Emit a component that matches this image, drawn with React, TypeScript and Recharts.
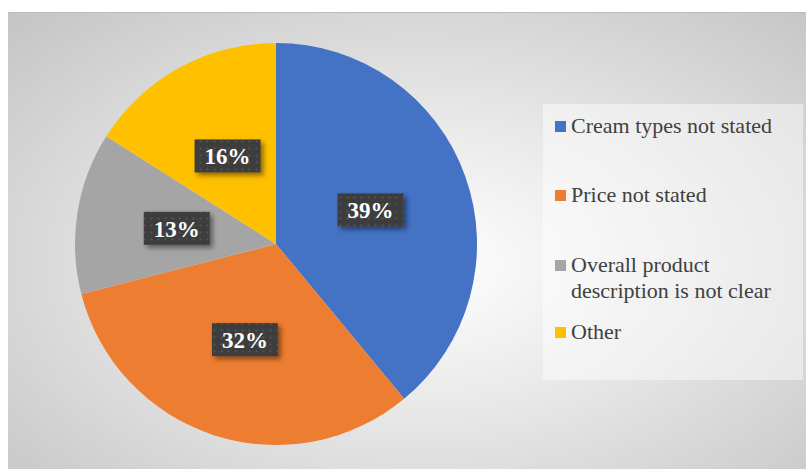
import React from "react";
import { PieChart, Pie, Cell, Legend } from "recharts";

const categories = [
  "Cream types not stated",
  "Price not stated",
  "Overall product description is not clear",
  "Other",
];
const shares = [39, 32, 13, 16];
const colors = ["#4472C4", "#ED7D31", "#A5A5A5", "#FFC000"];

const data = categories.map((name, i) => ({ name, value: shares[i] }));

const RAD = Math.PI / 180;
const SERIF = "'Liberation Serif', Tinos, 'Times New Roman', Times, 'DejaVu Serif', serif";

const renderLabel = (props: any) => {
  const { cx, cy, midAngle, outerRadius, value } = props;
  const r = outerRadius * 0.5;
  const x = cx + r * Math.cos(-midAngle * RAD);
  const y = cy + r * Math.sin(-midAngle * RAD);
  const w = 66;
  const h = 33;
  return (
    <g>
      <rect
        x={x - w / 2}
        y={y - h / 2}
        width={w}
        height={h}
        fill="url(#dotPattern)"
        filter="url(#boxShadow)"
      />
      <text
        x={x}
        y={y + 1}
        textAnchor="middle"
        dominantBaseline="central"
        fill="#ffffff"
        fontFamily={SERIF}
        fontWeight="bold"
        fontSize={23}
      >
        {value}%
      </text>
    </g>
  );
};

// legend rows: top offset of the text block inside the legend box
const legendTops = [9, 78, 148, 215];
const legendLines = [
  ["Cream types not stated"],
  ["Price not stated"],
  ["Overall product", "description is not clear"],
  ["Other"],
];

const LegendBox = () => (
  <div
    style={{
      position: "relative",
      width: 260,
      height: 276,
      background: "rgba(255,255,255,0.45)",
      fontFamily: SERIF,
      fontSize: 22,
      color: "#404040",
    }}
  >
    {categories.map((c, i) => (
      <div key={c} style={{ position: "absolute", left: 0, top: legendTops[i], width: 260 }}>
        <div
          style={{
            position: "absolute",
            left: 12,
            top: 8,
            width: 11,
            height: 11,
            background: colors[i],
          }}
        />
        <div style={{ marginLeft: 28, lineHeight: "26px", whiteSpace: "nowrap" }}>
          {legendLines[i].map((l) => (
            <div key={l}>{l}</div>
          ))}
        </div>
      </div>
    ))}
  </div>
);

export default function App() {
  return (
    <div
      style={{
        position: "absolute",
        left: 8,
        top: 12,
        width: 798,
        height: 457,
        background: "radial-gradient(ellipse at 52% 55%, #ffffff 0%, #e9e9e9 40%, #c4c4c4 100%)",
        borderTop: "1px solid #bdbdbd",
        boxSizing: "border-box",
      }}
    >
      <svg width={0} height={0} style={{ position: "absolute" }}>
        <defs>
          <pattern id="dotPattern" width={7} height={7} patternUnits="userSpaceOnUse">
            <rect width={7} height={7} fill="#3d3d3d" />
            <circle cx={3.5} cy={3.5} r={1} fill="#575757" />
          </pattern>
          <filter id="boxShadow" x="-20%" y="-20%" width="150%" height="160%">
            <feDropShadow dx={3} dy={3} stdDeviation={2.5} floodColor="#000" floodOpacity={0.45} />
          </filter>
        </defs>
      </svg>
      <PieChart
        width={798}
        height={456}
        margin={{ top: 0, right: 0, bottom: 0, left: 0 }}
        style={{ position: "absolute", left: 0, top: -1 }}
      >
        <Pie
          data={data}
          dataKey="value"
          nameKey="name"
          cx={268}
          cy={232}
          outerRadius={201}
          startAngle={90}
          endAngle={-270}
          stroke="none"
          label={renderLabel}
          labelLine={false}
          isAnimationActive={false}
        >
          {data.map((d, i) => (
            <Cell key={d.name} fill={colors[i]} />
          ))}
        </Pie>
        <Legend
          content={() => <LegendBox />}
          wrapperStyle={{ position: "absolute", left: 535, top: 92, width: 260, height: 276 }}
        />
      </PieChart>
    </div>
  );
}
